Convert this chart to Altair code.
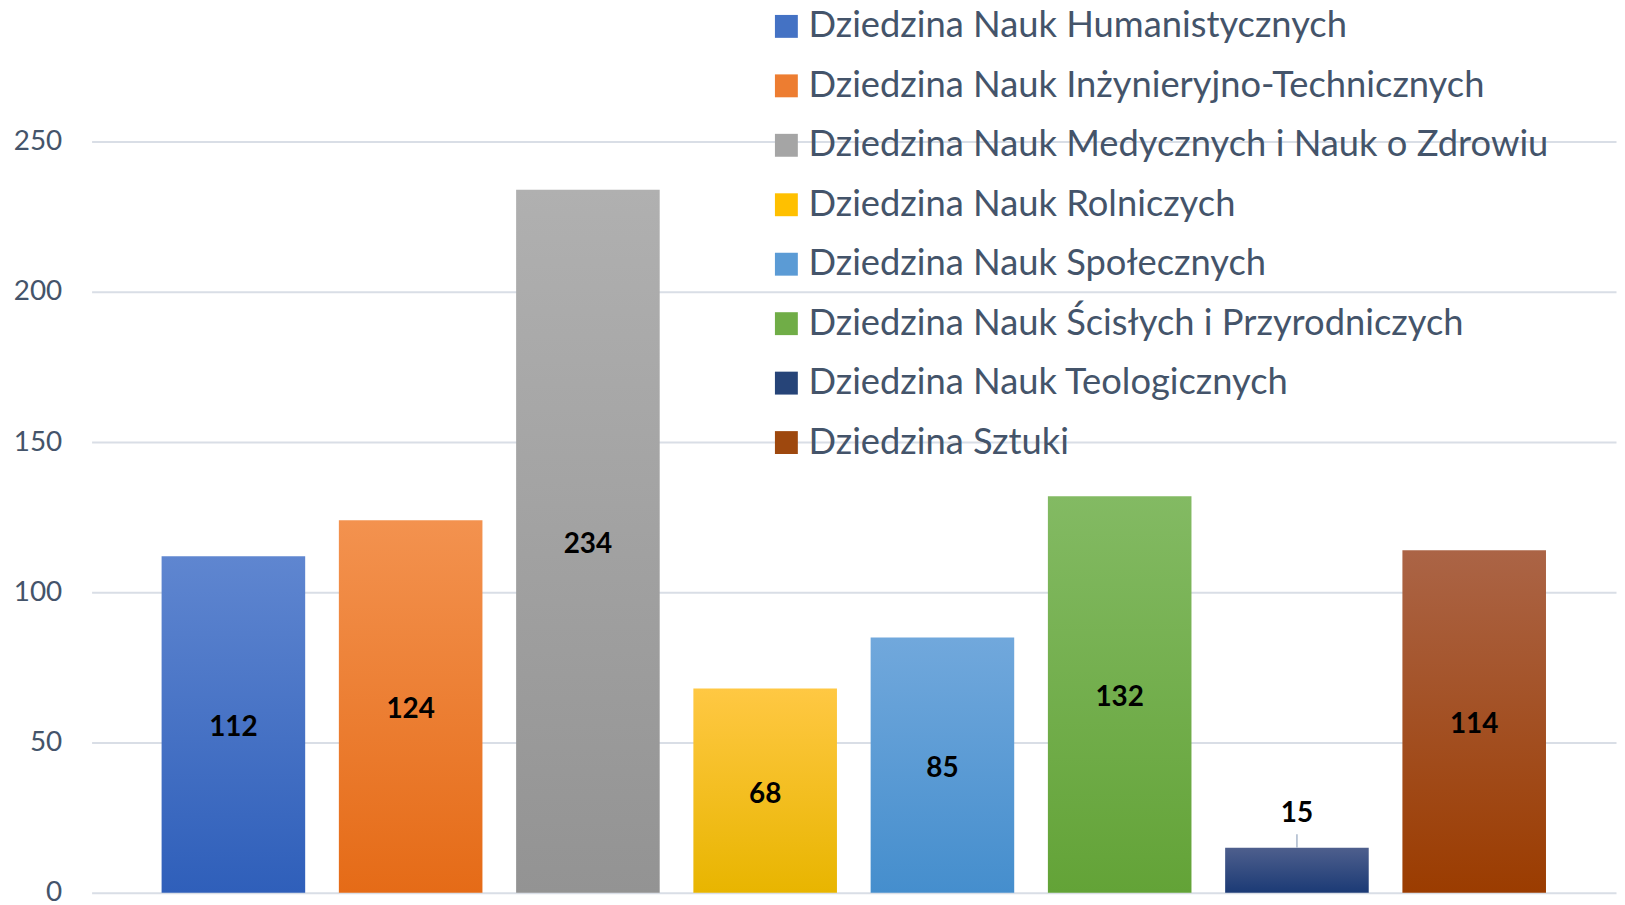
import altair as alt
import pandas as pd

categories = [
    "Dziedzina Nauk Humanistycznych",
    "Dziedzina Nauk Inżynieryjno-Technicznych",
    "Dziedzina Nauk Medycznych i Nauk o Zdrowiu",
    "Dziedzina Nauk Rolniczych",
    "Dziedzina Nauk Społecznych",
    "Dziedzina Nauk Ścisłych i Przyrodniczych",
    "Dziedzina Nauk Teologicznych",
    "Dziedzina Sztuki",
]
values = [112, 124, 234, 68, 85, 132, 15, 114]
top_colors = ["#5F86D0", "#F3924F", "#B0B0B0", "#FFC843", "#71A8DC", "#83BA63", "#4E5F8D", "#AB6446"]
bottom_colors = ["#2F5FBA", "#E56B17", "#939393", "#E8B500", "#458ECD", "#63A337", "#1B3A75", "#9B3C00"]
mid_colors = ["#4472C4", "#ED7D31", "#A5A5A5", "#FFC000", "#5B9BD5", "#70AD47", "#264478", "#9E480E"]

df = pd.DataFrame({"cat": categories, "value": values})

def grad(t, b):
    return {
        "gradient": "linear", "x1": 0, "y1": 0, "x2": 0, "y2": 1,
        "stops": [{"offset": 0, "color": t}, {"offset": 1, "color": b}],
    }

conds = [
    {"test": f"datum.cat === {c!r}", "value": grad(t, b)}
    for c, t, b in zip(categories, top_colors, bottom_colors)
]

FONT = "Lato"
TXT = "#44546A"

x = alt.X("cat:N", sort=categories, axis=None,
          scale=alt.Scale(paddingInner=0.19, paddingOuter=0.395))
y = alt.Y("value:Q", scale=alt.Scale(domain=[0, 250], nice=False),
          axis=alt.Axis(values=[0, 50, 100, 150, 200, 250], title=None, ticks=False,
                        domain=False, labelPadding=30, labelFontSize=28, labelFont=FONT,
                        labelColor=TXT, gridColor="#D9DEE6", gridWidth=2))

bars = alt.Chart(df).mark_bar().encode(
    x=x,
    y=y,
    color=alt.Color(
        "cat:N", sort=categories,
        scale=alt.Scale(domain=categories, range=mid_colors),
        legend=alt.Legend(
            title=None, orient="none", legendX=680, legendY=-134,
            symbolType="square", symbolSize=530, symbolStrokeWidth=0,
            labelFontSize=36.5, labelFont=FONT, labelColor=TXT, labelLimit=900,
            rowPadding=22.75, labelOffset=4, padding=0, symbolOpacity=1,
        ),
        condition=conds,
    ),
)

labels = alt.Chart(df).transform_calculate(
    ly="datum.value < 30 ? datum.value + 12.5 : datum.value / 2"
).mark_text(font=FONT, fontSize=28, fontWeight="bold", color="#000000", dy=4).encode(
    x=alt.X("cat:N", sort=categories),
    y=alt.Y("ly:Q"),
    text=alt.Text("value:Q"),
)

leader = alt.Chart(df).transform_filter("datum.value < 30").transform_calculate(
    y2v="datum.value + 4.5"
).mark_rule(color="#A9B7CB", strokeWidth=1.5).encode(
    x=alt.X("cat:N", sort=categories),
    y=alt.Y("value:Q"),
    y2=alt.Y2("y2v:Q"),
)

chart = alt.layer(bars, leader, labels).properties(
    width=1532, height=755,
    autosize=alt.AutoSizeParams(type="none"),
    padding={"left": 84, "top": 132, "right": 1, "bottom": 10},
).configure_view(stroke=None)

chart.save("out.html", embed_options={"renderer": "svg", "actions": False})
